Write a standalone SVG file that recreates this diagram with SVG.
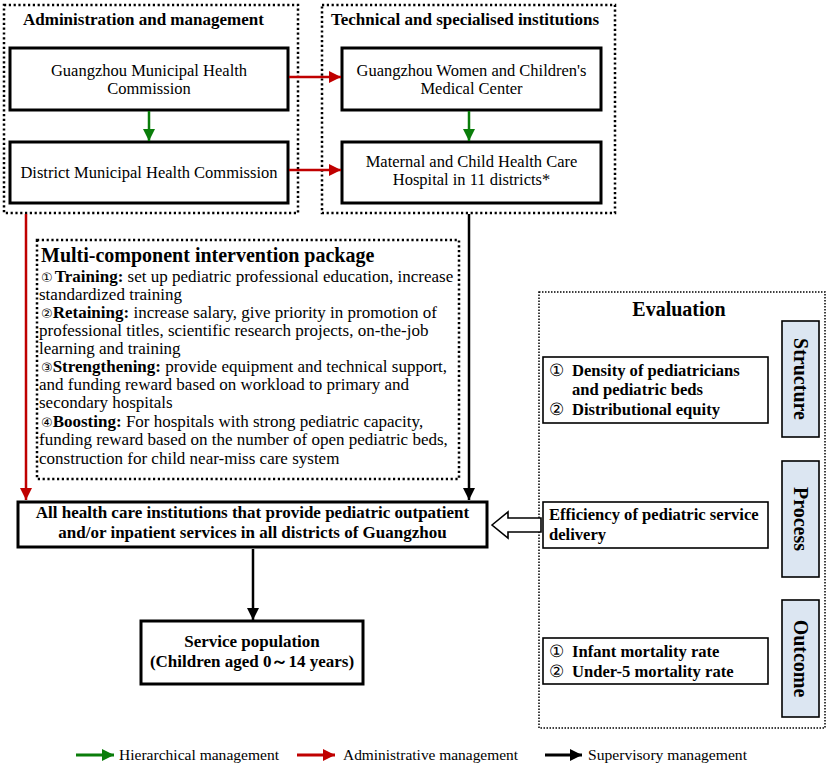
<svg xmlns="http://www.w3.org/2000/svg" width="829" height="769" viewBox="0 0 829 769">
<defs>
<style>
text{font-family:"Liberation Serif","Times New Roman",serif;fill:#000}
.t{font-size:16.5px}
.p{font-size:17px}
.b{font-size:17px;font-weight:bold}
.e{font-size:16.6px;font-weight:bold}
.h{font-size:17px;font-weight:bold}
.s{font-size:20px;font-weight:bold;text-anchor:middle}
.c{text-anchor:middle}
.n{font-size:13px;font-family:"DejaVu Sans",sans-serif;font-weight:normal}
.dot{fill:none;stroke:#000;stroke-width:2.5;stroke-dasharray:2.2 2.6}
.fdot{fill:none;stroke:#000;stroke-width:1.5;stroke-dasharray:1.5 1.5}
.box{fill:#fff;stroke:#000;stroke-width:3}
.ebox{fill:#fff;stroke:#000;stroke-width:1.6}
.side{fill:#dce6f2;stroke:#000;stroke-width:1.6}
.lg{font-size:15.5px}
</style>
<marker id="ag" viewBox="0 0 12 12" refX="12" refY="6" markerWidth="12" markerHeight="12" markerUnits="userSpaceOnUse" orient="auto"><path d="M0,0L12,6L0,12Z" fill="#0a7d0a"/></marker>
<marker id="ar" viewBox="0 0 12 12" refX="12" refY="6" markerWidth="12" markerHeight="12" markerUnits="userSpaceOnUse" orient="auto"><path d="M0,0L12,6L0,12Z" fill="#c00000"/></marker>
<marker id="ak" viewBox="0 0 12 12" refX="12" refY="6" markerWidth="12" markerHeight="12" markerUnits="userSpaceOnUse" orient="auto"><path d="M0,0L12,6L0,12Z" fill="#000"/></marker>
</defs>
<rect width="829" height="769" fill="#fff"/>

<g id="admin-group">
<rect class="dot" x="4" y="5" width="294" height="208"/>
<text class="h" x="23" y="25">Administration and management</text>
</g>
<g id="tech-group">
<rect class="dot" x="322" y="5" width="293" height="208"/>
<text class="h" x="331" y="25">Technical and specialised institutions</text>
</g>

<g id="gmhc">
<rect class="box" x="10" y="48" width="278" height="62"/>
<text class="t c" x="149" y="76">Guangzhou Municipal Health</text>
<text class="t c" x="149" y="94">Commission</text>
</g>
<g id="dmhc">
<rect class="box" x="10" y="142" width="278" height="61"/>
<text class="t c" x="149" y="178">District Municipal Health Commission</text>
</g>
<g id="gwcmc">
<rect class="box" x="342" y="48" width="259" height="62"/>
<text class="t c" x="471.5" y="76">Guangzhou Women and Children's</text>
<text class="t c" x="471.5" y="94">Medical Center</text>
</g>
<g id="mchch">
<rect class="box" x="342" y="142" width="259" height="61"/>
<text class="t c" x="471.5" y="167">Maternal and Child Health Care</text>
<text class="t c" x="471.5" y="185">Hospital in 11 districts*</text>
</g>

<g id="package">
<rect class="dot" x="37" y="240" width="422" height="239"/>
<text x="41" y="262" style="font-size:20px;font-weight:bold">Multi-component intervention package</text>
<g class="p">
<text x="41" y="282"><tspan class="n">①</tspan><tspan dx="2" font-weight="bold">Training:</tspan> set up pediatric professional education, increase</text>
<text x="39" y="300">standardized training</text>
<text x="41" y="318"><tspan class="n">②</tspan><tspan font-weight="bold">Retaining:</tspan> increase salary, give priority in promotion of</text>
<text x="39" y="336">professional titles, scientific research projects, on-the-job</text>
<text x="39" y="354">learning and training</text>
<text x="41" y="372"><tspan class="n">③</tspan><tspan font-weight="bold">Strengthening:</tspan> provide equipment and technical support,</text>
<text x="39" y="390">and funding reward based on workload to primary and</text>
<text x="39" y="408">secondary hospitals</text>
<text x="41" y="427"><tspan class="n">④</tspan><tspan font-weight="bold">Boosting:</tspan> For hospitals with strong pediatric capacity,</text>
<text x="39" y="445">funding reward based on the number of open pediatric beds,</text>
<text x="39" y="464">construction for child near-miss care system</text>
</g>
</g>

<g id="institutions">
<rect class="box" x="18" y="502" width="469" height="45"/>
<text class="b c" x="252.5" y="518">All health care institutions that provide pediatric outpatient</text>
<text class="b c" x="252.5" y="538">and/or inpatient services in all districts of Guangzhou</text>
</g>

<g id="population">
<rect class="box" x="141" y="621" width="222" height="63"/>
<text class="b c" x="252" y="647">Service population</text>
<text class="b c" x="252" y="667">(Children aged 0～14 years)</text>
</g>

<g id="evaluation">
<rect class="fdot" x="539" y="292" width="286" height="436"/>
<text class="c" x="679" y="316" style="font-size:20px;font-weight:bold">Evaluation</text>
</g>
<g id="structure">
<rect class="side" x="782" y="321" width="37" height="116"/>
<text class="s" transform="translate(800.5,379) rotate(90)" dy="6.5">Structure</text>
<rect class="ebox" x="543" y="357" width="225" height="66"/>
<text class="t" x="549" y="376">①</text>
<text class="e" x="572" y="376">Density of pediatricians</text>
<text class="e" x="572" y="395">and pediatric beds</text>
<text class="t" x="549" y="415">②</text>
<text class="e" x="572" y="415">Distributional equity</text>
</g>
<g id="process">
<rect class="side" x="782" y="461" width="37" height="116"/>
<text class="s" transform="translate(800.5,519) rotate(90)" dy="6.5">Process</text>
<rect class="ebox" x="543" y="502" width="225" height="46"/>
<text class="e" x="549" y="520">Efficiency of pediatric service</text>
<text class="e" x="549" y="540">delivery</text>
</g>
<g id="outcome">
<rect class="side" x="782" y="600" width="37" height="117"/>
<text class="s" transform="translate(800.5,658.5) rotate(90)" dy="6.5">Outcome</text>
<rect class="ebox" x="543" y="638" width="225" height="46"/>
<text class="t" x="549" y="657">①</text>
<text class="e" x="572" y="657">Infant mortality rate</text>
<text class="t" x="549" y="677">②</text>
<text class="e" x="572" y="677">Under-5 mortality rate</text>
</g>

<g id="connectors" fill="none" stroke-width="2.5">
<line x1="149" y1="111" x2="149" y2="141" stroke="#0a7d0a" marker-end="url(#ag)"/>
<line x1="469" y1="111" x2="469" y2="141" stroke="#0a7d0a" marker-end="url(#ag)"/>
<line x1="289" y1="77" x2="341" y2="77" stroke="#c00000" marker-end="url(#ar)"/>
<line x1="289" y1="170" x2="341" y2="170" stroke="#c00000" marker-end="url(#ar)"/>
<line x1="26" y1="214" x2="26" y2="500" stroke="#c00000" marker-end="url(#ar)"/>
<line x1="469" y1="214" x2="469" y2="500" stroke="#000" marker-end="url(#ak)"/>
<line x1="253" y1="549" x2="253" y2="620" stroke="#000" marker-end="url(#ak)"/>
<polygon points="492,525 508,512 508,518 541,518 541,532 508,532 508,538" fill="#fff" stroke="#000" stroke-width="1.6"/>
</g>

<g id="legend">
<line x1="76" y1="755" x2="114" y2="755" stroke="#0a7d0a" stroke-width="3" marker-end="url(#ag)"/>
<text class="lg" x="119" y="760" textLength="160" lengthAdjust="spacingAndGlyphs">Hierarchical management</text>
<line x1="297" y1="755" x2="335" y2="755" stroke="#c00000" stroke-width="3" marker-end="url(#ar)"/>
<text class="lg" x="343" y="760" textLength="175" lengthAdjust="spacingAndGlyphs">Administrative management</text>
<line x1="545" y1="755" x2="582" y2="755" stroke="#000" stroke-width="3" marker-end="url(#ak)"/>
<text class="lg" x="588" y="760" textLength="159" lengthAdjust="spacingAndGlyphs">Supervisory management</text>
</g>
</svg>
